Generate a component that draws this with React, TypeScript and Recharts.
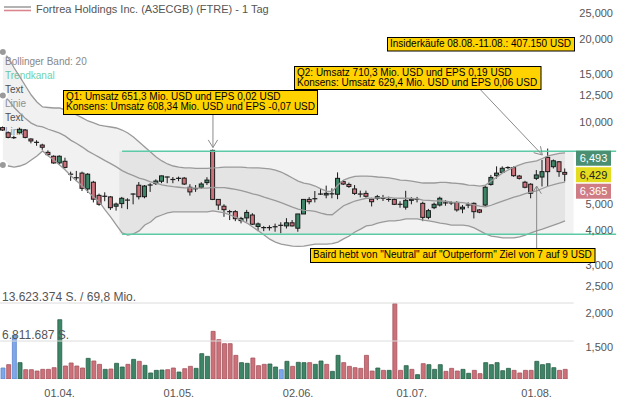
import React from 'react';
import { ComposedChart, Bar, Line, Area, XAxis, YAxis, ReferenceArea, ReferenceLine, Cell } from 'recharts';

const FONT = '"Liberation Sans", Arial, Helvetica, sans-serif';
const WIDTH = 619;
const HEIGHT = 399;

// ---- Kursdaten (USD), ein Eintrag je Handelstag ----
const opens = [
  9.52, 9.12, 8.75, 9.12, 9.33, 8.65, 8.41, 8.22, 7.73, 7.48,
  7.07, 7.17, 6.43, 6.24, 6.49, 5.68, 6.01, 5.38, 5.34, 5.31,
  4.91, 5.02, 5.17, 5.44, 5.86, 5.32, 5.87, 5.94, 6.06, 6.28,
  6.15, 6.21, 6.22, 5.76, 5.69, 5.76, 5.99, 7.86, 5.20, 4.91,
  4.69, 4.69, 4.35, 4.45, 4.56, 4.14, 4.10, 4.10, 4.13, 4.18,
  4.16, 4.27, 4.08, 4.60, 5.20, 5.23, 5.44, 5.40, 5.45, 5.43,
  6.04, 5.90, 5.68, 5.44, 5.47, 5.21, 5.25, 5.25, 5.20, 5.20,
  4.99, 4.87, 5.16, 5.20, 5.03, 4.47, 4.85, 4.96, 5.05, 5.05,
  5.07, 4.80, 4.96, 5.03, 4.76, 4.96, 5.90, 6.35, 6.53, 6.80,
  6.80, 6.33, 6.01, 5.91, 6.21, 6.28, 7.41, 6.85, 7.14, 6.53,
];
const highs = [
  9.61, 9.22, 8.89, 9.49, 9.41, 8.70, 8.56, 8.31, 7.86, 7.54,
  7.54, 7.39, 6.57, 6.61, 6.57, 6.49, 6.08, 5.46, 5.52, 5.35,
  5.06, 5.31, 5.25, 5.47, 6.02, 5.87, 5.96, 6.16, 6.36, 6.30,
  6.28, 6.30, 6.28, 5.91, 5.87, 6.01, 6.27, 7.91, 5.20, 4.99,
  4.76, 4.75, 4.49, 4.76, 4.63, 4.28, 4.15, 4.18, 4.24, 4.29,
  4.44, 4.37, 4.60, 5.20, 5.30, 5.58, 5.71, 5.84, 5.71, 6.53,
  6.12, 5.99, 5.87, 5.60, 5.60, 5.27, 5.40, 5.40, 5.32, 5.25,
  5.12, 5.59, 5.30, 5.31, 5.10, 4.80, 5.06, 5.32, 5.17, 5.12,
  5.12, 4.96, 5.07, 5.07, 4.79, 5.84, 6.39, 6.87, 6.87, 6.87,
  6.87, 6.39, 6.08, 5.96, 6.66, 7.25, 7.98, 7.28, 7.18, 6.75,
];
const lows = [
  9.26, 8.70, 8.65, 9.06, 8.70, 8.34, 8.17, 7.90, 7.52, 7.02,
  6.95, 6.75, 6.08, 6.06, 5.58, 5.49, 5.07, 4.93, 5.12, 4.76,
  4.73, 4.83, 4.79, 4.99, 5.20, 5.25, 5.54, 5.87, 5.96, 5.96,
  5.96, 6.06, 5.87, 5.37, 5.54, 5.68, 5.87, 5.17, 4.76, 4.49,
  4.37, 4.33, 4.25, 4.31, 4.19, 3.98, 3.98, 4.00, 3.96, 3.91,
  4.07, 4.14, 3.96, 4.60, 4.99, 5.07, 5.40, 5.25, 5.25, 5.21,
  5.87, 5.73, 5.40, 5.29, 5.28, 4.90, 5.17, 5.13, 5.10, 4.96,
  4.85, 4.77, 4.99, 5.07, 4.33, 4.40, 4.79, 4.90, 4.93, 4.96,
  4.69, 4.63, 4.83, 4.43, 4.63, 4.90, 5.84, 6.20, 6.49, 6.71,
  6.29, 6.15, 5.71, 5.25, 6.12, 5.80, 5.80, 6.75, 6.29, 6.05,
];
const closes = [
  9.33, 8.77, 8.75, 9.39, 8.77, 8.51, 8.41, 8.07, 7.58, 7.07,
  7.48, 6.81, 6.43, 6.24, 5.71, 6.43, 5.21, 4.99, 5.34, 4.85,
  5.00, 5.25, 5.17, 5.44, 5.32, 5.82, 5.87, 6.07, 6.34, 6.28,
  6.15, 6.21, 5.92, 5.54, 5.69, 5.92, 6.12, 5.20, 4.96, 4.77,
  4.69, 4.42, 4.43, 4.66, 4.22, 4.23, 4.10, 4.10, 4.13, 4.18,
  4.27, 4.16, 4.60, 5.20, 5.10, 5.23, 5.44, 5.47, 5.45, 6.21,
  5.92, 5.80, 5.47, 5.44, 5.34, 5.10, 5.32, 5.25, 5.20, 4.99,
  4.99, 5.16, 5.21, 5.20, 4.47, 4.73, 4.99, 5.25, 5.05, 5.05,
  4.76, 4.87, 4.96, 4.69, 4.67, 5.76, 6.26, 6.49, 6.76, 6.80,
  6.35, 6.21, 5.76, 5.47, 6.39, 6.57, 6.57, 7.20, 6.57, 6.429,
];

// ---- Umsatz (Mio. Stück) und Farbe des Umsatzbalkens (u = steigend, d = fallend, n = unverändert) ----
const volumes = [
  1.97, 2.57, 7.83, 2.93, 1.67, 1.67, 1.43, 1.73, 1.73, 2.03,
  10.63, 2.33, 2.87, 2.33, 1.97, 3.70, 3.23, 2.63, 1.73, 1.79,
  2.81, 2.15, 2.63, 3.52, 3.17, 2.45, 1.08, 1.55, 1.61, 1.67,
  1.97, 1.25, 1.85, 2.27, 1.91, 4.54, 4.06, 8.54, 7.05, 6.33,
  6.33, 4.24, 2.93, 2.81, 3.76, 2.39, 2.63, 2.69, 2.15, 1.67,
  3.17, 2.27, 2.99, 2.93, 2.93, 2.63, 3.23, 2.63, 1.37, 4.24,
  2.93, 2.27, 2.03, 1.91, 4.24, 1.43, 1.97, 1.55, 1.55, 13.5,
  1.55, 2.39, 1.73, 0.78, 2.75, 2.57, 1.73, 2.57, 1.37, 1.91,
  1.43, 1.73, 1.02, 1.55, 0.96, 2.93, 2.57, 2.93, 1.49, 1.91,
  1.55, 1.08, 1.55, 1.55, 3.17, 2.57, 2.75, 2.03, 1.55, 1.73,
];
const volumeDir = [
  'n', 'd', 'n', 'u', 'd', 'd', 'd', 'd', 'd', 'd',
  'u', 'd', 'd', 'd', 'd', 'u', 'd', 'd', 'u', 'd',
  'u', 'u', 'd', 'u', 'd', 'u', 'u', 'u', 'u', 'd',
  'd', 'u', 'd', 'd', 'u', 'u', 'u', 'd', 'd', 'd',
  'd', 'd', 'u', 'u', 'd', 'd', 'd', 'u', 'u', 'n',
  'u', 'd', 'u', 'u', 'd', 'u', 'u', 'd', 'u', 'u',
  'd', 'd', 'd', 'd', 'd', 'd', 'u', 'd', 'u', 'd',
  'd', 'u', 'd', 'u', 'd', 'u', 'u', 'u', 'd', 'd',
  'd', 'u', 'u', 'd', 'd', 'u', 'u', 'u', 'u', 'u',
  'd', 'd', 'd', 'd', 'u', 'u', 'u', 'u', 'd', 'd',
];

// ---- Bollinger Band (20) ----
const bbUpper = [
  18.00, 17.12, 15.73, 14.59, 13.52, 12.53, 11.82, 11.33, 11.28, 11.23,
  11.23, 11.05, 10.77, 10.59, 10.33, 10.07, 9.90, 9.73, 9.65, 9.57,
  9.49, 9.33, 9.10, 8.80, 8.44, 8.09, 7.75, 7.43, 7.19, 7.01,
  6.89, 6.83, 6.78, 6.78, 6.75, 6.75, 6.75, 6.78, 6.80, 6.83,
  6.83, 6.83, 6.83, 6.80, 6.78, 6.78, 6.75, 6.72, 6.66, 6.55,
  6.39, 6.23, 6.07, 5.97, 5.92, 5.82, 5.68, 5.58, 5.56, 5.87,
  6.12, 6.23, 6.31, 6.33, 6.33, 6.31, 6.28, 6.26, 6.23, 6.18,
  6.12, 6.10, 6.07, 6.02, 5.97, 5.97, 5.97, 6.00, 6.00, 5.97,
  5.95, 5.92, 5.87, 5.85, 5.82, 5.87, 6.07, 6.28, 6.50, 6.66,
  6.83, 6.95, 7.07, 7.13, 7.19, 7.34, 7.50, 7.59, 7.66, 7.69,
];
const bbMiddle = [
  12.48, 12.00, 11.28, 10.74, 10.27, 9.89, 9.66, 9.58, 9.39, 9.24,
  9.09, 8.86, 8.55, 8.33, 8.08, 7.81, 7.61, 7.41, 7.21, 7.03,
  6.84, 6.63, 6.48, 6.35, 6.22, 6.14, 6.03, 5.96, 5.88, 5.83,
  5.79, 5.76, 5.73, 5.73, 5.72, 5.72, 5.72, 5.75, 5.74, 5.74,
  5.70, 5.66, 5.60, 5.53, 5.45, 5.39, 5.30, 5.22, 5.15, 5.06,
  4.97, 4.87, 4.79, 4.74, 4.73, 4.70, 4.63, 4.58, 4.57, 4.75,
  4.93, 5.03, 5.13, 5.19, 5.25, 5.25, 5.27, 5.28, 5.29, 5.26,
  5.25, 5.26, 5.24, 5.22, 5.17, 5.16, 5.14, 5.13, 5.12, 5.08,
  5.07, 5.06, 5.02, 4.97, 4.91, 4.88, 4.95, 5.04, 5.13, 5.21,
  5.30, 5.37, 5.46, 5.53, 5.59, 5.70, 5.81, 5.89, 5.96, 6.02,
];
const bbLower = [
  6.95, 6.89, 6.83, 6.89, 7.01, 7.25, 7.50, 7.82, 7.50, 7.25,
  6.95, 6.66, 6.33, 6.07, 5.82, 5.54, 5.31, 5.09, 4.76, 4.48,
  4.19, 3.92, 3.85, 3.89, 3.99, 4.19, 4.30, 4.48, 4.56, 4.64,
  4.68, 4.68, 4.68, 4.68, 4.68, 4.68, 4.68, 4.72, 4.68, 4.64,
  4.56, 4.48, 4.37, 4.26, 4.12, 3.99, 3.85, 3.72, 3.63, 3.57,
  3.54, 3.51, 3.50, 3.51, 3.54, 3.57, 3.57, 3.57, 3.58, 3.63,
  3.73, 3.82, 3.95, 4.05, 4.16, 4.19, 4.26, 4.30, 4.34, 4.34,
  4.37, 4.41, 4.41, 4.41, 4.37, 4.34, 4.30, 4.26, 4.23, 4.19,
  4.19, 4.19, 4.16, 4.09, 3.99, 3.89, 3.82, 3.79, 3.76, 3.76,
  3.76, 3.79, 3.85, 3.92, 3.99, 4.05, 4.12, 4.19, 4.26, 4.34,
];

// ---- Achsen, Trendkanal, Marken ----
const emptySlots = 9;
const dateTickIndex = [10, 31, 52, 72, 94];
const dateTickLabels = ['01.04.', '01.05.', '02.06.', '01.07.', '01.08.'];
const priceTicks = [1.5, 2, 2.5, 3, 4, 5, 10, 12.5, 15, 20, 25];
const priceDomain = [0.9677, 27.9];
const channelTop = 7.8;
const channelBottom = 3.88;
const channelStart = 21;
const channelEnd = 100;
const volumeGridValues = [13.623374, 6.811687];
const volumeGridLabels = ['13.623.374 S. / 69,8 Mio.', '6.811.687 S.'];
const volumeDomainMax = 20.435061;
const lastPrices = [6.493, 6.429, 6.365];
const q1Arrow = { idx: 37, from: 10.66, to: 8.05 };
const q2Arrow = { fromIdx: 84, from: 13.17, toIdx: 95, to: 7.56 };
const bairdArrow = { idx: 94, from: 3.45, to: 5.82 };

const GREEN = '#3d8566';
const GREEN_DARK = '#2b6049';
const RED = '#cc717a';
const RED_DARK = '#a4545d';
const BLUE = '#7fa8ea';
const BLUE_DARK = '#5a86cc';
const TEAL = '#5ccaa6';
const BAND = '#9a9a9a';

const dateLabel: Record<number, string> = {};
dateTickIndex.forEach((ix, k) => { dateLabel[ix] = dateTickLabels[k]; });

const rows: any[] = opens.map((o, i) => ({
  i,
  o,
  h: highs[i],
  l: lows[i],
  c: closes[i],
  v: volumes[i],
  dir: volumeDir[i],
  bu: bbUpper[i],
  bm: bbMiddle[i],
  bl: bbLower[i],
}));
for (let k = 0; k < emptySlots; k++) rows.push({ i: opens.length + k });

const fmtPrice = (v: number) => v.toFixed(3).replace('.', ',');

const Candle = (props: any) => {
  const { x, y, width, height, payload } = props;
  if (!payload || payload.h == null) return null;
  const top = Math.min(y, y + height);
  const bot = Math.max(y, y + height);
  const lh = Math.log(payload.h);
  const ll = Math.log(payload.l);
  const span = lh - ll;
  const py = (p: number) => (span > 0 ? top + ((bot - top) * (lh - Math.log(p))) / span : top);
  const cx = x + width / 2;
  const yo = py(payload.o);
  const yc = py(payload.c);
  const bt = Math.min(yo, yc);
  const bb = Math.max(yo, yc);
  const up = payload.c > payload.o;
  const down = payload.c < payload.o;
  return (
    <g>
      <line x1={cx} x2={cx} y1={top} y2={bot} stroke="#1a1a1a" strokeWidth={1} />
      {up || down ? (
        <rect x={cx - 2} y={bt} width={4} height={Math.max(bb - bt, 1)} fill={up ? GREEN : RED} stroke="#1a1a1a" strokeWidth={1} />
      ) : (
        <line x1={cx - 2.5} x2={cx + 2.5} y1={yo} y2={yo} stroke="#1a1a1a" strokeWidth={1.2} />
      )}
    </g>
  );
};

const Arrow = (props: any) => {
  const { x1, y1, x2, y2 } = props;
  const dx = x2 - x1;
  const dy = y2 - y1;
  const len = Math.hypot(dx, dy) || 1;
  const ux = dx / len;
  const uy = dy / len;
  const L = 9;
  const a = 0.55;
  const arm = (ang: number) => [
    x2 - L * (ux * Math.cos(ang) - uy * Math.sin(ang)),
    y2 - L * (ux * Math.sin(ang) + uy * Math.cos(ang)),
  ];
  const p1 = arm(a);
  const p2 = arm(-a);
  return (
    <g>
      <line x1={x1} y1={y1} x2={x2} y2={y2} stroke="#8a8a8a" strokeWidth={1} />
      <polyline points={`${p1[0]},${p1[1]} ${x2},${y2} ${p2[0]},${p2[1]}`} fill="none" stroke="#8a8a8a" strokeWidth={1} />
    </g>
  );
};

const PriceTags = (props: any) => {
  const vb = props.viewBox || {};
  const right = (vb.x || 0) + (vb.width || 0);
  const yc = vb.y || 0;
  const tags = [
    { v: lastPrices[0], dy: -16, bg: '#4b8f73', fg: '#ffffff' },
    { v: lastPrices[1], dy: 0.5, bg: '#e4dc1e', fg: '#222222' },
    { v: lastPrices[2], dy: 17, bg: '#cf7c84', fg: '#ffffff' },
  ];
  return (
    <g>
      {tags.map((t, k) => (
        <g key={k}>
          <rect x={right - 43} y={yc + t.dy - 7.5} width={35} height={15} fill={t.bg} />
          <text x={right - 25.5} y={yc + t.dy + 4} textAnchor="middle" fontSize={11} fontFamily={FONT} fill={t.fg}>
            {fmtPrice(t.v)}
          </text>
        </g>
      ))}
    </g>
  );
};

const GridLine = (props: any) => {
  const { y1, x2, y2 } = props;
  return <line x1={0} y1={y1} x2={x2 + 3} y2={y2} stroke="#dcdcdc" strokeWidth={1} />;
};

const gridLabel = (text: string) => (props: any) => {
  const vb = props.viewBox || {};
  return (
    <text x={2} y={(vb.y || 0) - 2.5} fontSize={12} fontFamily={FONT} fill="#555">
      {text}
    </text>
  );
};

const Note = ({ x, y, w, h, lines }: { x: number; y: number; w: number; h: number; lines: string[] }) => (
  <g>
    <rect x={x + 0.5} y={y + 0.5} width={w} height={h} fill="#ffd200" stroke="#000" strokeWidth={1} />
    {lines.map((t, k) => (
      <text key={k} x={x + 3} y={y + 9.5 + k * 10} fontSize={10} fontFamily={FONT} fill="#000">
        {t}
      </text>
    ))}
  </g>
);

export default function App() {
  return (
    <div style={{ position: 'absolute', left: 0, top: 0, width: WIDTH, height: HEIGHT, background: '#fff', overflow: 'hidden', fontFamily: FONT }}>
      {/* Kopfzeile und Legende */}
      <svg width={WIDTH} height={HEIGHT} style={{ position: 'absolute', left: 0, top: 0 }}>
        <line x1={4} x2={31} y1={7} y2={7} stroke="#a0a0a0" strokeWidth={1.6} />
        <line x1={4} x2={31} y1={10.5} y2={10.5} stroke="#d9868f" strokeWidth={1.6} />
        <text x={36} y={12.5} fontSize={11} fill="#555" fontFamily={FONT}>Fortrea Holdings Inc. (A3ECGB) (FTRE) - 1 Tag</text>
        <text x={5} y={64.5} fontSize={10} fill="#888" fontFamily={FONT}>Bollinger Band: 20</text>
        <text x={5} y={78.5} fontSize={10} fill="#6ed2b1" fontFamily={FONT}>Trendkanal</text>
        <text x={5} y={92.5} fontSize={10} fill="#555" fontFamily={FONT}>Text</text>
        <text x={5} y={106.5} fontSize={10} fill="#999" fontFamily={FONT}>Linie</text>
        <text x={5} y={120.5} fontSize={10} fill="#555" fontFamily={FONT}>Text</text>
        <text x={5} y={134.5} fontSize={10} fill="#999" fontFamily={FONT}>Linie</text>
      </svg>

      {/* Umsatz */}
      <div style={{ position: 'absolute', left: 0, top: 0 }}>
        <ComposedChart width={WIDTH} height={HEIGHT} data={rows} margin={{ top: 265, right: 0, bottom: 0, left: 0 }}>
          <XAxis
            dataKey="i"
            type="category"
            height={20}
            ticks={dateTickIndex}
            interval={0}
            tickFormatter={(v: any) => dateLabel[v] || ''}
            axisLine={false}
            tickLine={false}
            tickMargin={4}
            tick={{ fontSize: 11, fill: '#555', fontFamily: FONT }}
          />
          <YAxis hide domain={[0, volumeDomainMax]} allowDataOverflow />
          {volumeGridValues.map((g, k) => (
            <ReferenceLine
              key={k}
              segment={[{ x: 0, y: g }, { x: channelEnd, y: g }]}
              shape={GridLine}
              label={gridLabel(volumeGridLabels[k])}
            />
          ))}
          <Bar dataKey="v" barSize={4} isAnimationActive={false}>
            {rows.map((r, k) => (
              <Cell
                key={k}
                fill={r.dir === 'u' ? GREEN : r.dir === 'd' ? RED : BLUE}
                stroke={r.dir === 'u' ? GREEN_DARK : r.dir === 'd' ? RED_DARK : BLUE_DARK}
                strokeWidth={0.8}
              />
            ))}
          </Bar>
        </ComposedChart>
      </div>

      {/* Kurs */}
      <div style={{ position: 'absolute', left: 0, top: 0 }}>
        <ComposedChart width={WIDTH} height={HEIGHT} data={rows} margin={{ top: 0, right: 0, bottom: 0, left: 0 }}>
          <XAxis dataKey="i" type="category" hide />
          <YAxis
            orientation="right"
            mirror
            scale="log"
            domain={priceDomain}
            allowDataOverflow
            ticks={priceTicks}
            interval={0}
            tickFormatter={fmtPrice}
            axisLine={false}
            tickLine={false}
            tickSize={0}
            tickMargin={6}
            tick={{ fontSize: 11, fill: '#555', fontFamily: FONT }}
          />
          <ReferenceArea x1={channelStart} x2={channelEnd} y1={channelBottom} y2={channelTop} fill="#000" fillOpacity={0.05} stroke="none" />
          <Area
            dataKey={(d: any) => (d.bu != null ? [d.bl, d.bu] : null)}
            stroke="none"
            fill="#000"
            fillOpacity={0.055}
            isAnimationActive={false}
            connectNulls={false}
          />
          <Line dataKey="bu" stroke={BAND} strokeWidth={1.3} dot={false} isAnimationActive={false} />
          <Line dataKey="bm" stroke={BAND} strokeWidth={1.3} dot={false} isAnimationActive={false} />
          <Line dataKey="bl" stroke={BAND} strokeWidth={1.3} dot={false} isAnimationActive={false} />
          <ReferenceLine segment={[{ x: channelStart, y: channelTop }, { x: rows.length - 1, y: channelTop }]} stroke={TEAL} strokeWidth={1.5} />
          <ReferenceLine segment={[{ x: channelStart, y: channelBottom }, { x: rows.length - 1, y: channelBottom }]} stroke={TEAL} strokeWidth={1.5} />
          <Bar dataKey={(d: any) => (d.h != null ? [d.l, d.h] : null)} barSize={5} shape={Candle} isAnimationActive={false} />
          <ReferenceLine segment={[{ x: q1Arrow.idx, y: q1Arrow.from }, { x: q1Arrow.idx, y: q1Arrow.to }]} shape={Arrow} />
          <ReferenceLine segment={[{ x: q2Arrow.fromIdx, y: q2Arrow.from }, { x: q2Arrow.toIdx, y: q2Arrow.to }]} shape={Arrow} />
          <ReferenceLine segment={[{ x: bairdArrow.idx, y: bairdArrow.from }, { x: bairdArrow.idx, y: bairdArrow.to }]} shape={Arrow} />
          <ReferenceLine y={lastPrices[1]} stroke="none" label={(p: any) => <PriceTags {...p} />} />
        </ComposedChart>
      </div>

      {/* Ereignis-Notizen */}
      <svg width={WIDTH} height={HEIGHT} style={{ position: 'absolute', left: 0, top: 0, pointerEvents: 'none' }}>
        <Note x={387} y={37} w={187} h={13.5} lines={['Insiderkäufe 08.08.-11.08.: 407.150 USD']} />
        <Note x={294} y={66} w={246.5} h={23} lines={['Q2: Umsatz 710,3 Mio. USD und EPS 0,19 USD', 'Konsens: Umsatz 629,4 Mio. USD und EPS 0,06 USD']} />
        <Note x={63} y={90} w={254} h={24} lines={['Q1: Umsatz 651,3 Mio. USD und EPS 0,02 USD', 'Konsens: Umsatz 608,34 Mio. USD und EPS -0,07 USD']} />
        <Note x={310} y={248} w={284.5} h={14} lines={['Baird hebt von "Neutral" auf "Outperform" Ziel von 7 auf 9 USD']} />
      </svg>
    </div>
  );
}
